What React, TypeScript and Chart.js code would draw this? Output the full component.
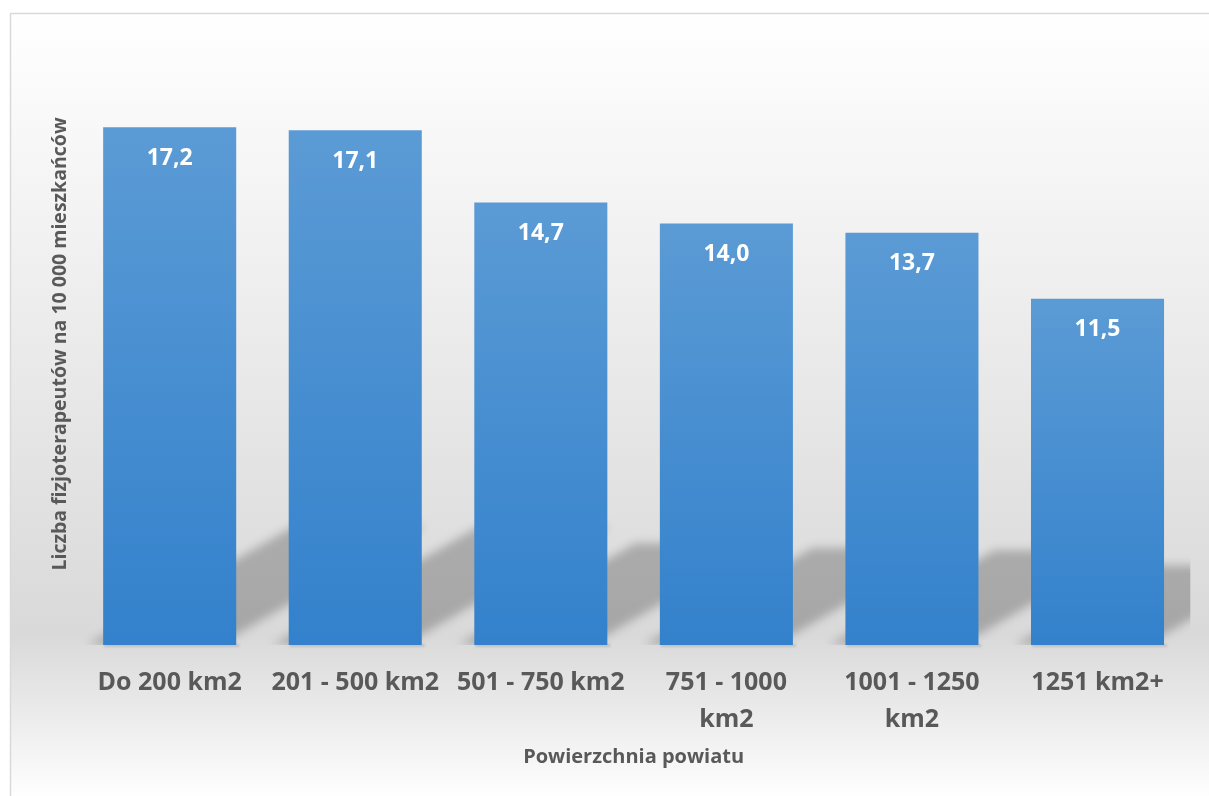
import React, { useEffect, useRef } from "react";
import { Chart, registerables } from "chart.js";

Chart.register(...registerables);

const categories: (string | string[])[] = [
  "Do 200 km2",
  "201 - 500 km2",
  "501 - 750 km2",
  ["751 - 1000", "km2"],
  ["1001 - 1250", "km2"],
  "1251 km2+",
];
const values: number[] = [17.2, 17.1, 14.7, 14.0, 13.7, 11.5];
const yAxisTitle = "Liczba fizjoterapeutów na 10 000 mieszkańców";
const xAxisTitle = "Powierzchnia powiatu";

const FONT = "'Open Sans', sans-serif";
const GRAY = "#595959";

const backgroundPlugin = {
  id: "bgPlugin",
  beforeDraw(chart: any) {
    const { ctx, width, height } = chart;
    ctx.save();
    ctx.fillStyle = "#ffffff";
    ctx.fillRect(0, 0, width, height);
    const g = ctx.createLinearGradient(0, 13, 0, 800);
    g.addColorStop(0, "#ffffff");
    g.addColorStop(0.79, "#d9d9d9");
    g.addColorStop(1, "#ffffff");
    ctx.fillStyle = g;
    ctx.fillRect(10, 13, width, height);
    ctx.strokeStyle = "#d9d9d9";
    ctx.lineWidth = 1.5;
    ctx.beginPath();
    ctx.moveTo(10.5, height + 2);
    ctx.lineTo(10.5, 13.5);
    ctx.lineTo(width + 2, 13.5);
    ctx.stroke();
    ctx.restore();
  },
};

const shadowPlugin = {
  id: "barShadow",
  beforeDatasetsDraw(chart: any) {
    const { ctx, chartArea } = chart;
    const meta = chart.getDatasetMeta(0);
    ctx.save();
    ctx.beginPath();
    ctx.rect(chartArea.left, chartArea.top, chartArea.right - chartArea.left, chartArea.bottom - chartArea.top);
    ctx.clip();
    ctx.filter = "blur(5px)";
    ctx.fillStyle = "rgba(0,0,0,0.23)";
    meta.data.forEach((bar: any) => {
      const xl = bar.x - bar.width / 2;
      const xr = bar.x + bar.width / 2;
      const h = bar.base - bar.y;
      const sh = 0.23 * h;
      const S = sh / 0.575;
      ctx.beginPath();
      ctx.moveTo(xl - 16, bar.base);
      ctx.lineTo(xr - 18, bar.base);
      ctx.lineTo(xr - 18 + S, bar.base - sh);
      ctx.lineTo(xl - 16 + S, bar.base - sh);
      ctx.closePath();
      ctx.fill();
    });
    ctx.restore();
    ctx.save();
    ctx.filter = "blur(1px)";
    ctx.fillStyle = "rgba(0,0,0,0.12)";
    meta.data.forEach((bar: any) => {
      const xl = bar.x - bar.width / 2;
      ctx.fillRect(xl + 1, bar.base - 1, bar.width + 2, 3);
    });
    ctx.restore();
  },
};

const labelPlugin = {
  id: "valueLabels",
  afterDatasetsDraw(chart: any) {
    const { ctx } = chart;
    const meta = chart.getDatasetMeta(0);
    ctx.save();
    ctx.fillStyle = "#ffffff";
    ctx.font = `bold 23px ${FONT}`;
    ctx.textAlign = "center";
    ctx.textBaseline = "middle";
    meta.data.forEach((bar: any, i: number) => {
      const txt = values[i].toFixed(1).replace(".", ",");
      ctx.fillText(txt, bar.x, bar.y + 31);
    });
    ctx.restore();
  },
};

export default function App() {
  const ref = useRef<HTMLCanvasElement | null>(null);
  useEffect(() => {
    if (!ref.current) return;
    const chart = new Chart(ref.current, {
      type: "bar",
      data: {
        labels: categories,
        datasets: [
          {
            data: values,
            borderWidth: 0,
            backgroundColor: (c: any) => {
              const ch = c.chart;
              const { chartArea, scales } = ch;
              if (!chartArea || !scales || !scales.y) return "#4a8fd0";
              const v = c.raw as number;
              const top = scales.y.getPixelForValue(v);
              const bottom = scales.y.getPixelForValue(0);
              const g = ch.ctx.createLinearGradient(0, top, 0, bottom);
              g.addColorStop(0, "#5b9bd5");
              g.addColorStop(1, "#3381cc");
              return g;
            },
            barPercentage: 0.717,
            categoryPercentage: 1,
          },
        ],
      },
      options: {
        responsive: false,
        animation: false,
        devicePixelRatio: 1,
        layout: { padding: { top: 43, right: 18.7, left: 48.6, bottom: 34 } },
        plugins: {
          legend: { display: false },
          title: { display: false },
          tooltip: { enabled: false },
        },
        scales: {
          x: {
            grid: { display: false, drawTicks: false },
            border: { display: false },
            ticks: {
              color: GRAY,
              font: { family: FONT, size: 25, weight: "bold", lineHeight: 1.48 },
              padding: 19,
              maxRotation: 0,
              autoSkip: false,
            },
            title: {
              display: true,
              text: xAxisTitle,
              color: GRAY,
              font: { family: FONT, size: 20, weight: "bold", lineHeight: 0.5 },
              padding: { top: -5, bottom: 0 },
            },
          },
          y: {
            min: 0,
            max: 20,
            grid: { display: false, drawTicks: false },
            border: { display: false },
            ticks: { display: false },
            title: {
              display: true,
              text: yAxisTitle,
              color: GRAY,
              font: { family: FONT, size: 19.5, weight: "bold", lineHeight: 1.2 },
              padding: { top: 0, bottom: 4.9 },
            },
          },
        },
      },
      plugins: [backgroundPlugin, shadowPlugin, labelPlugin],
    });
    return () => chart.destroy();
  }, []);
  return (
    <div style={{ position: "absolute", left: 0, top: 0, width: 1209, height: 796 }}>
      <canvas ref={ref} width={1209} height={796} style={{ display: "block" }} />
    </div>
  );
}
